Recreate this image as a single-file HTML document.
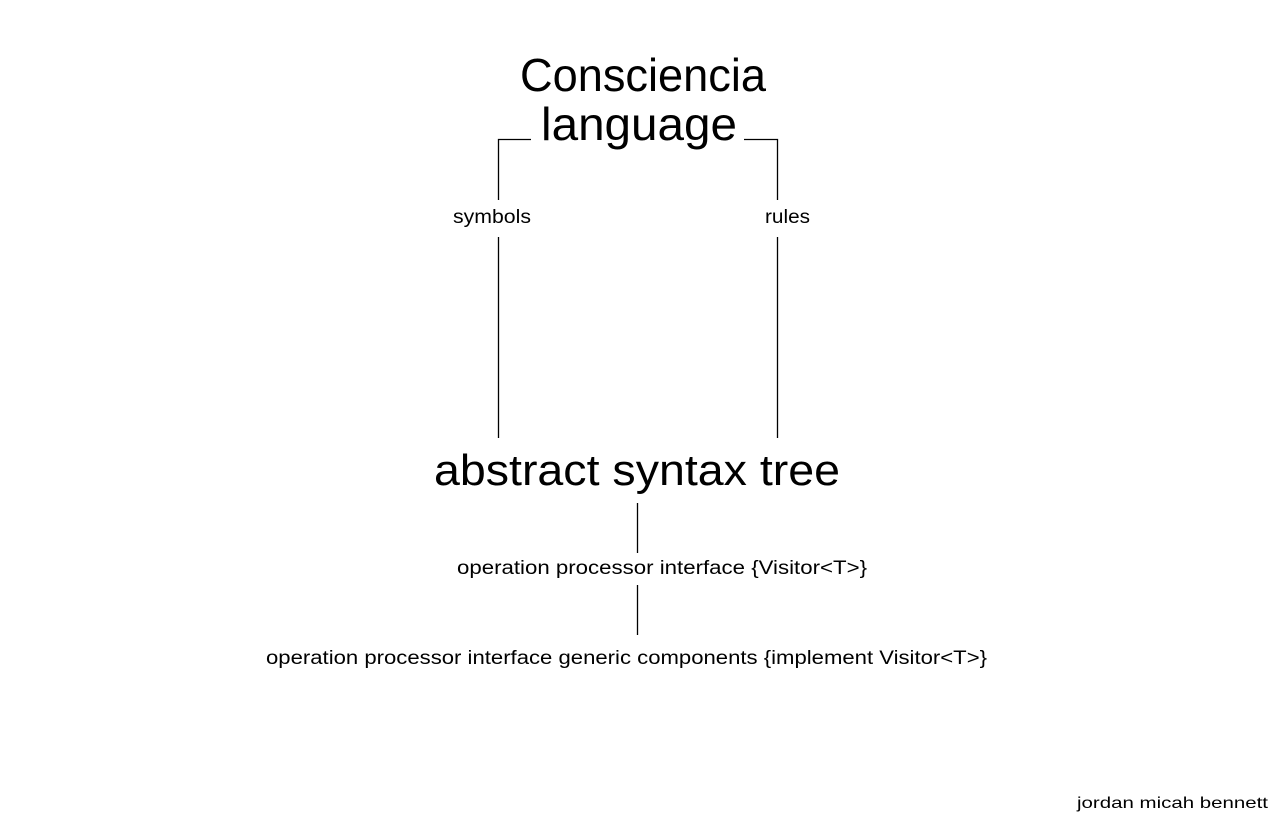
<!DOCTYPE html>
<html><head><style>html,body{margin:0;padding:0;background:#fff;}svg{display:block}</style></head>
<body>
<svg width="1278" height="816" xmlns="http://www.w3.org/2000/svg" font-family="Liberation Sans, DejaVu Sans, sans-serif" fill="#000">
<g stroke="#000" stroke-width="1.3" fill="none">
<path d="M531 139.5 H498.5 V200"/>
<path d="M744 139.5 H777.5 V200"/>
<path d="M498.5 237 V438"/>
<path d="M777.5 237 V438"/>
<path d="M637.5 503 V553"/>
<path d="M637.5 585 V635"/>
</g>
<text x="520" y="91" font-size="46" textLength="246" lengthAdjust="spacingAndGlyphs">Consciencia</text>
<text x="541" y="140" font-size="46" textLength="196" lengthAdjust="spacingAndGlyphs">language</text>
<text x="453" y="223" font-size="19" textLength="78" lengthAdjust="spacingAndGlyphs">symbols</text>
<text x="765" y="223" font-size="19" textLength="45" lengthAdjust="spacingAndGlyphs">rules</text>
<text x="434" y="485" font-size="44" textLength="406" lengthAdjust="spacingAndGlyphs">abstract syntax tree</text>
<text x="457" y="574" font-size="19" textLength="410" lengthAdjust="spacingAndGlyphs">operation processor interface  {Visitor&lt;T&gt;}</text>
<text x="266" y="664" font-size="19" textLength="721" lengthAdjust="spacingAndGlyphs">operation processor interface generic components {implement Visitor&lt;T&gt;}</text>
<text x="1077" y="808" font-size="16" textLength="191" lengthAdjust="spacingAndGlyphs">jordan micah bennett</text>
</svg>
</body></html>
